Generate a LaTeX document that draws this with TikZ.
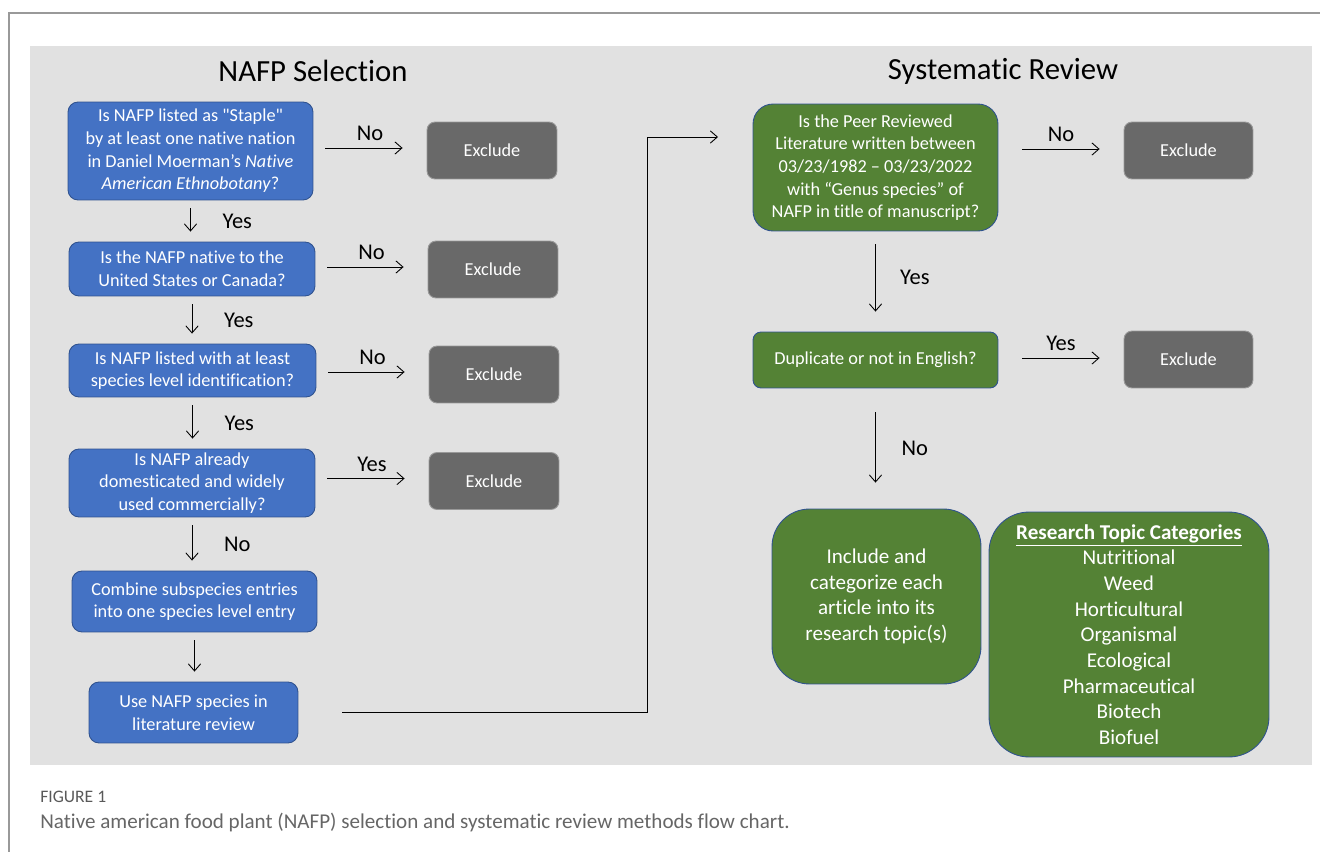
\documentclass[tikz,border=0pt]{standalone}
\usepackage{fontspec}
\setmainfont{Carlito}[Ligatures={TeXOff,NoCommon}]
\usetikzlibrary{arrows.meta,positioning,calc}

\definecolor{nafpblue}{HTML}{4472C4}
\definecolor{nafpedge}{HTML}{2F528F}
\definecolor{revgreen}{HTML}{548235}
\definecolor{exgray}{HTML}{696969}
\definecolor{panelgray}{HTML}{E1E1E1}
\definecolor{capgray}{HTML}{666666}

\begin{document}
\begin{tikzpicture}[x=0.02cm,y=-0.02cm,
    box/.style={draw=nafpedge,line width=0.5pt,text=white,align=center,inner sep=0pt,
        rounded corners=0.2cm,font=\fontsize{10.4}{12.9}\selectfont},
    bluebox/.style={box,fill=nafpblue},
    greenbox/.style={box,fill=revgreen},
    exbox/.style={box,fill=exgray,draw=gray!80,rounded corners=0.16cm,
        minimum width=2.6cm,minimum height=1.14cm},
    lab/.style={font=\fontsize{12.8}{14}\selectfont,inner sep=1pt},
    arr/.style={-{Straight Barb[length=4pt,width=7pt]},line width=0.5pt},
    side/.style={arr,shorten <=0.24cm,shorten >=0.48cm},
    down/.style={arr,shorten <=0.16cm,shorten >=0.2cm}]

    \useasboundingbox (0,0) rectangle (1320,852);

    % cadre et fond
    \draw[gray!80,line width=0.8pt] (1320,13) -- (9,13) -- (9,852);
    \fill[panelgray] (30,46) rectangle (1312,765);

    % titres
    \node[font=\fontsize{17.5}{20}\selectfont] (tsel) at (313,71) {NAFP Selection};
    \node[font=\fontsize{17.5}{20}\selectfont] (trev) at (1003,71) {Systematic Review};

    % NAFP Selection
    \node[bluebox,minimum width=4.9cm,minimum height=1.96cm] (staple) at (190.5,151)
        {Is NAFP listed as "Staple"\\by at least one native nation\\
         in Daniel Moerman’s \textit{Native}\\\textit{American Ethnobotany}?};
    \node[bluebox,minimum width=4.92cm,minimum height=1.08cm] (native) at (192,269)
        {Is the NAFP native to the\\United States or Canada?};
    \node[bluebox,minimum width=4.94cm,minimum height=1.06cm] (level) at (192.5,370.5)
        {Is NAFP listed with at least\\species level identification?};
    \node[bluebox,minimum width=4.92cm,minimum height=1.36cm] (domest) at (192,483)
        {Is NAFP already\\domesticated and widely\\used commercially?};
    \node[bluebox,minimum width=4.9cm,minimum height=1.22cm] (combine) at (194.5,601.5)
        {Combine subspecies entries\\into one species level entry};
    \node[bluebox,minimum width=4.18cm,minimum height=1.22cm] (use) at (193.5,712.5)
        {Use NAFP species in\\literature review};

    \node[exbox] (exa) at (492,150.5) {Exclude};
    \node[exbox] (exb) at (493,269.5) {Exclude};
    \node[exbox] (exc) at (494,374.5) {Exclude};
    \node[exbox] (exd) at (494,481) {Exclude};

    \draw[side] ([yshift=0.05cm]exa.west -| staple.east) -- ([yshift=0.05cm]exa.west)
        node[lab,midway,above=0.1cm] (na) {No};
    \draw[side] ([yshift=0.05cm]exb.west -| native.east) -- ([yshift=0.05cm]exb.west)
        node[lab,midway,above=0.1cm] (nb) {No};
    \draw[side] ([yshift=0.05cm]exc.west -| level.east) -- ([yshift=0.05cm]exc.west)
        node[lab,midway,above=0.1cm] (nc) {No};
    \draw[side] ([yshift=0.05cm]exd.west -| domest.east) -- ([yshift=0.05cm]exd.west)
        node[lab,midway,above=0.1cm] (yd) {Yes};

    \draw[down] (staple.south) -- (staple.south |- native.north)
        node[lab,midway,right=0.6cm] (ya) {Yes};
    \draw[down] (native.south) -- (native.south |- level.north)
        node[lab,midway,right=0.6cm] (yb) {Yes};
    \draw[down] (level.south) -- (level.south |- domest.north)
        node[lab,midway,right=0.6cm] (yc) {Yes};
    \draw[down] (domest.south) -- (domest.south |- combine.north)
        node[lab,midway,right=0.6cm] (nd) {No};
    \draw[down] (combine.south) -- (combine.south |- use.north);

    % Systematic Review
    \node[greenbox,rounded corners=0.4cm,minimum width=4.9cm,minimum height=2.54cm] (peer) at (875.5,167.5)
        {Is the Peer Reviewed\\Literature written between\\03/23/1982 – 03/23/2022\\
         with “Genus species” of\\NAFP in title of manuscript?};
    \node[greenbox,rounded corners=0.16cm,minimum width=4.9cm,minimum height=1.12cm] (dup) at (875.5,360)
        {Duplicate or not in English?};
    \node[greenbox,rounded corners=0.75cm,minimum width=4.18cm,minimum height=3.5cm,
        font=\fontsize{12}{14.5}\selectfont] (incl) at (876.5,596.5)
        {Include and\\categorize each\\article into its\\research topic(s)};
    \node[greenbox,rounded corners=0.8cm,minimum width=5.6cm,minimum height=4.9cm,
        font=\fontsize{12}{14.6}\selectfont] (cats) at (1129,634.5)
        {\textbf{\underline{Research Topic Categories}}\\Nutritional\\Weed\\Horticultural\\
         Organismal\\Ecological\\Pharmaceutical\\Biotech\\Biofuel};

    \node[exbox,minimum width=2.58cm] (exe) at (1188.5,150.5) {Exclude};
    \node[exbox,minimum width=2.58cm] (exf) at (1188.5,359.5) {Exclude};

    \draw[side,shorten <=0.48cm] ([yshift=0.03cm]exe.west -| peer.east) -- ([yshift=0.03cm]exe.west)
        node[lab,midway,above=0.1cm] (ne) {No};
    \draw[side,shorten <=0.48cm] ([yshift=0.03cm]exf.west -| dup.east) -- ([yshift=0.03cm]exf.west)
        node[lab,midway,above=0.1cm] (yf) {Yes};

    \draw[arr,shorten <=0.26cm,shorten >=0.4cm] (peer.south) -- (peer.south |- dup.north)
        node[lab,midway,right=0.45cm,yshift=0.08cm] (ye) {Yes};
    \draw[arr,shorten <=0.48cm,shorten >=0.52cm] (dup.south) -- (dup.south |- incl.north)
        node[lab,midway,right=0.48cm] (nf) {No};

    % liaison entre les deux parties
    \coordinate (bend) at (647,137);
    \coordinate (tip) at (718,137);
    \draw[arr,shorten <=0.88cm] (use.east) -| (bend) -- (tip);

    % légende
    \node[anchor=west,inner sep=0pt,text=black!65,font=\fontsize{10}{12}\selectfont] (fig) at (40,797) {FIGURE 1};
    \node[anchor=west,inner sep=0pt,text=capgray,font=\fontsize{12}{14}\selectfont] (cap) at (40,822)
        {Native american food plant (NAFP) selection and systematic review methods flow chart.};
\end{tikzpicture}
\end{document}
